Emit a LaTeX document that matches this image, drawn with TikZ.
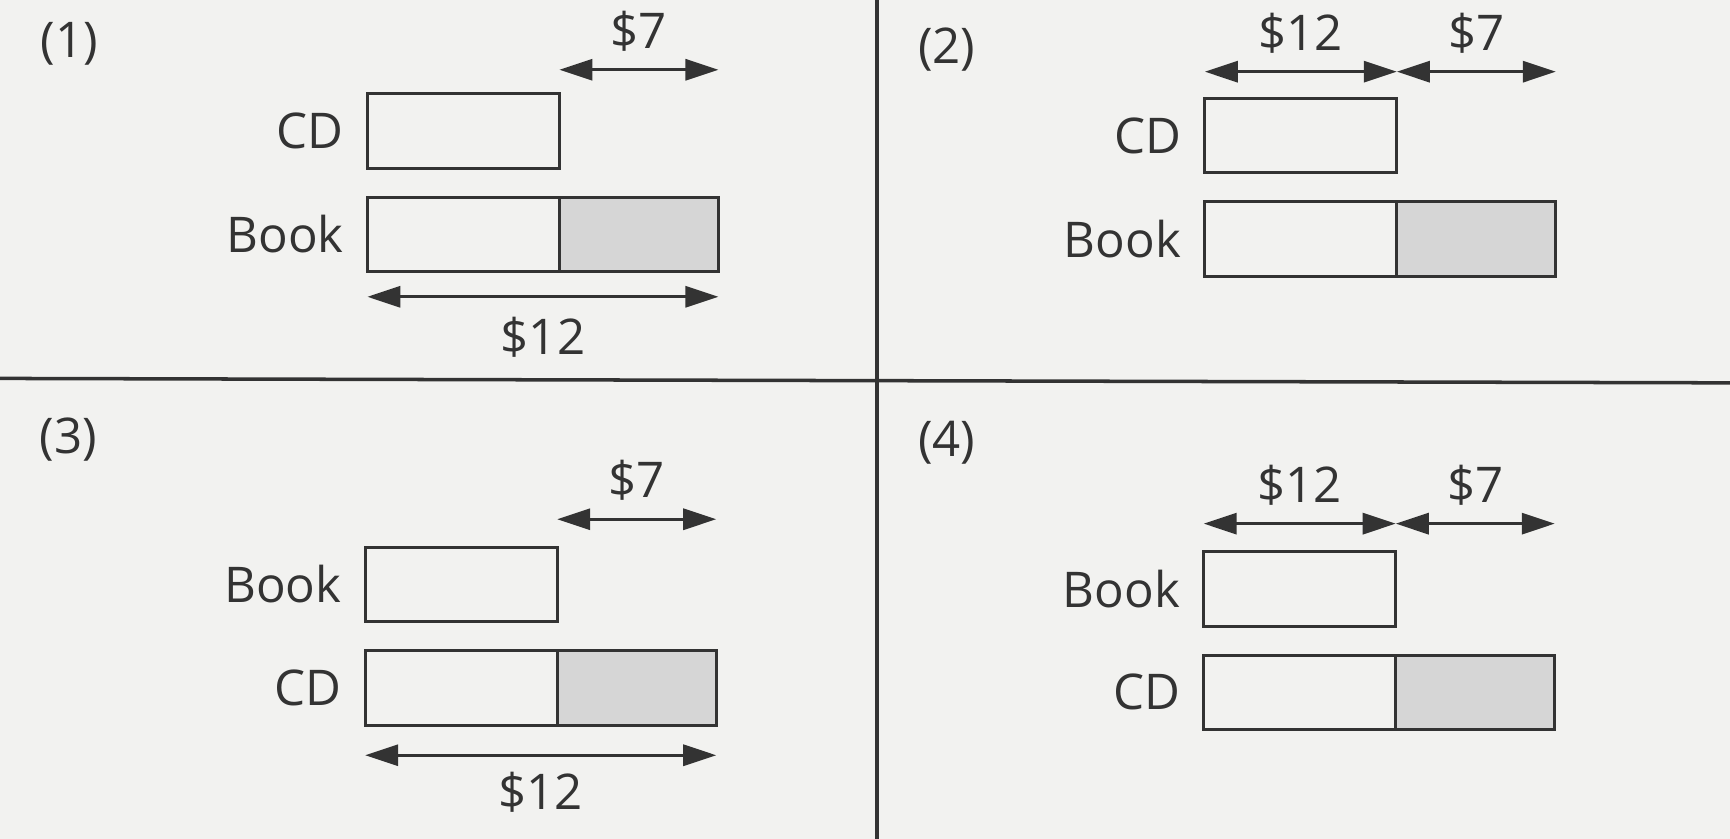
\documentclass[tikz,border=0pt]{standalone}
\usepackage{fontspec}
\setmainfont{Open Sans}
\usetikzlibrary{arrows.meta,positioning}
\definecolor{ink}{HTML}{333333}
\definecolor{paper}{HTML}{F2F2F0}
\definecolor{shade}{HTML}{D6D6D6}
\begin{document}
\begin{tikzpicture}[x=0.011033cm, y=-0.011033cm,
  font=\fontsize{14}{16}\selectfont, text=ink,
  bar/.style={draw=ink, line width=0.9pt, inner sep=0, outer sep=0, anchor=north west, minimum height=0.745cm},
  short/.style={bar, minimum width=1.92cm},
  extra/.style={bar, fill=shade, minimum width=1.59cm},
  item/.style={inner sep=0},
  price/.style={inner sep=0},
  span/.style={draw=ink, line width=0.9pt, {Triangle[length=0.33cm,width=0.21cm]}-{Triangle[length=0.33cm,width=0.21cm]}}]

\path[use as bounding box, fill=paper] (0,0) rectangle (1568,760);
\draw[ink, line width=1pt] (0,343) -- (1568,347);
\draw[ink, line width=1pt] (795,0) -- (795,760);

\node[item] (n1) at (63,40) {(1)};
\node[short] (cd1) at (333,85) {};
\node[short, below=0.29cm of cd1] (bookA1) {};
\node[extra, right=0pt of bookA1] (bookB1) {};
\node[item, left=0.23cm of cd1] (lcd1) {CD};
\node[item, left=0.23cm of bookA1] (lbook1) {Book};
\coordinate (a1) at ([yshift=0.24cm]cd1.north east);
\coordinate (b1) at (a1 -| bookB1.east);
\coordinate (c1) at ([yshift=-0.25cm]bookA1.south west);
\coordinate (d1) at (c1 -| bookB1.east);
\draw[span] (a1) -- node[price, above=0.17cm] (p7a) {\$7} (b1);
\draw[span] (c1) -- node[price, below=0.19cm] (p12a) {\$12} (d1);

\node[item] (n2) at (858,45) {(2)};
\node[short] (cd2) at (1092,89) {};
\node[short, below=0.29cm of cd2] (bookA2) {};
\node[extra, right=0pt of bookA2] (bookB2) {};
\node[item, left=0.23cm of cd2] (lcd2) {CD};
\node[item, left=0.23cm of bookA2] (lbook2) {Book};
\coordinate (a2) at ([yshift=0.265cm]cd2.north west);
\coordinate (m2) at ([yshift=0.265cm]cd2.north east);
\coordinate (b2) at (m2 -| bookB2.east);
\draw[span] (a2) -- node[price, above=0.17cm] (p12b) {\$12} (m2);
\draw[span] (m2) -- node[price, above=0.17cm] (p7b) {\$7} (b2);

\node[item] (n3) at (62,398) {(3)};
\node[short] (book3) at (331,496) {};
\node[short, below=0.29cm of book3] (cdA3) {};
\node[extra, right=0pt of cdA3] (cdB3) {};
\node[item, left=0.23cm of book3] (lbook3) {Book};
\node[item, left=0.23cm of cdA3] (lcd3) {CD};
\coordinate (a3) at ([yshift=0.28cm]book3.north east);
\coordinate (b3) at (a3 -| cdB3.east);
\coordinate (c3) at ([yshift=-0.3cm]cdA3.south west);
\coordinate (d3) at (c3 -| cdB3.east);
\draw[span] (a3) -- node[price, above=0.17cm] (p7c) {\$7} (b3);
\draw[span] (c3) -- node[price, below=0.15cm] (p12c) {\$12} (d3);

\node[item] (n4) at (858,401) {(4)};
\node[short] (book4) at (1091,500) {};
\node[short, below=0.29cm of book4] (cdA4) {};
\node[extra, right=0pt of cdA4] (cdB4) {};
\node[item, left=0.23cm of book4] (lbook4) {Book};
\node[item, left=0.23cm of cdA4] (lcd4) {CD};
\coordinate (a4) at ([yshift=0.28cm]book4.north west);
\coordinate (m4) at ([yshift=0.28cm]book4.north east);
\coordinate (b4) at (m4 -| cdB4.east);
\draw[span] (a4) -- node[price, above=0.17cm] (p12d) {\$12} (m4);
\draw[span] (m4) -- node[price, above=0.17cm] (p7d) {\$7} (b4);
\end{tikzpicture}
\end{document}
